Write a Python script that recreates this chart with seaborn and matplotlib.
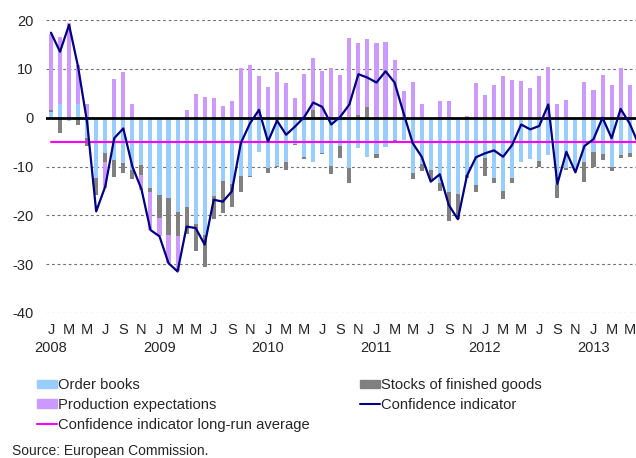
import numpy as np
import matplotlib
matplotlib.use("Agg")
import matplotlib.pyplot as plt
import matplotlib.transforms as mtransforms
import seaborn as sns
from matplotlib.patches import Patch
from matplotlib.lines import Line2D

# Monthly data, Jan 2008 - Jun 2013 (bars end in May 2013)
years = [2008, 2009, 2010, 2011, 2012, 2013]
month_letters = ["J", "M", "M", "J", "S", "N"]

order_books = [1.1, 2.9, -0.6, 2.9, -4.2, -12.4, -7.3, -8.7, -9.2, -10.7, -9.7, -14.5,
               -15.8, -16.4, -19.4, -18.3, -21.8, -24.0, -16.0, -13.0, -13.6, -11.9, -11.9, -7.0,
               -10.4, -9.8, -9.1, -5.4, -8.0, -9.1, -7.3, -9.9, -5.9, -10.4, -6.3, -8.0,
               -7.4, -6.1, -4.6, -4.6, -11.4, -9.5, -10.7, -13.4, -15.3, -15.7, -11.7, -13.8,
               -8.2, -12.4, -15.1, -12.4, -9.0, -8.5, -8.9, -7.6, -13.8, -10.4, -11.0, -9.0,
               -7.0, -7.4, -10.0, -7.6, -7.3]
stocks = [0.5, -3.2, 0.0, -1.5, -1.7, -3.4, -1.7, -3.4, -2.2, -1.9, -2.0, -0.8,
          -4.8, -7.6, -4.8, -5.5, -5.6, -6.5, -4.8, -6.6, -4.7, -3.4, -0.2, 0.0,
          -1.0, -0.2, -1.6, -0.2, -0.5, 1.6, -0.2, -1.7, -2.4, -2.9, 0.5, 2.1,
          -0.8, 0.0, -0.3, 0.0, -1.2, -1.4, -2.0, -1.7, -5.8, -5.1, -0.7, -1.5,
          -3.7, -1.0, -1.6, -0.9, 0.0, 0.0, -1.3, 0.0, -2.7, -0.4, 0.0, -4.1,
          -3.0, -1.3, -0.9, -0.7, -0.7]
production = [15.6, 13.7, 19.3, 7.9, 2.9, 0.0, -5.5, 8.0, 9.4, 2.7, -3.1, -7.7,
              -3.7, -5.8, -7.3, 1.6, 4.8, 4.3, 4.0, 2.4, 3.4, 10.1, 10.8, 8.6,
              6.2, 9.3, 7.0, 4.0, 8.9, 10.6, 9.6, 10.1, 8.7, 16.4, 14.7, 14.1,
              15.2, 15.5, 11.8, 5.5, 7.4, 2.7, 0.0, 3.5, 3.5, 0.0, 0.3, 7.0,
              4.6, 6.7, 8.6, 7.7, 7.5, 6.0, 8.6, 10.4, 2.8, 3.7, 0.0, 7.4,
              5.7, 8.7, 6.7, 10.1, 6.7]
confidence = [17.4, 13.5, 19.0, 10.4, -1.0, -19.2, -14.1, -4.2, -2.2, -10.0, -14.6, -23.0,
              -24.3, -29.8, -31.5, -22.3, -22.6, -26.0, -16.8, -17.2, -15.1, -5.2, -1.2, 1.6,
              -4.9, -0.6, -3.5, -1.8, 0.1, 3.1, 2.2, -1.4, 0.2, 2.7, 8.9, 8.2,
              7.2, 9.5, 7.2, 0.9, -5.2, -8.0, -13.1, -11.6, -17.9, -20.8, -11.9, -8.1,
              -7.3, -6.7, -8.0, -5.6, -1.4, -2.4, -1.7, 2.7, -13.6, -7.0, -11.2, -5.8,
              -4.4, 0.0, -4.2, 1.8, -1.2, -5.5]
long_run_avg = -5.0

sns.set_theme(style="white")
plt.rcParams["font.family"] = ["Liberation Sans", "DejaVu Sans"]
plt.rcParams["font.size"] = 10.5

fig = plt.figure(figsize=(6.36, 4.58), dpi=100)
ax = fig.add_axes([46 / 636, 1 - 313 / 458, 1 - 46 / 636, (313 - 20) / 458])

c_order = "#99ccff"
c_stock = "#808080"
c_prod = "#cc99ff"

# stacked bars, positives stacked up from zero and negatives down from zero
x_bar = np.arange(len(order_books))
pos_base = np.zeros(len(x_bar))
neg_base = np.zeros(len(x_bar))
for vals, col in [(order_books, c_order), (stocks, c_stock), (production, c_prod)]:
    v = np.array(vals)
    base = np.where(v >= 0, pos_base, neg_base)
    ax.bar(x_bar, v, bottom=base, width=0.45, color=col, linewidth=0, zorder=2)
    pos_base = pos_base + np.clip(v, 0, None)
    neg_base = neg_base + np.clip(v, None, 0)

x_line = np.arange(len(confidence))
sns.lineplot(x=x_line, y=[long_run_avg] * len(x_line), color="#ff00ff", lw=1.5, ax=ax, zorder=3)
ax.axhline(0, color="black", lw=2, zorder=3)
sns.lineplot(x=x_line, y=confidence, color="#000080", lw=1.6, ax=ax, zorder=4)

# grid and axes
for yv in range(-40, 21, 10):
    if yv != 0:
        ax.axhline(yv, color="#707070", lw=0.8, ls=(0, (2.5, 2.5)), zorder=1)
ax.set_ylim(-40, 20)
ax.set_xlim(-0.55, 64.7)
ax.set_yticks(range(-40, 21, 10))
ax.set_yticklabels([str(v) for v in range(-40, 21, 10)])

# month letters as tick labels, years as separate text below the January ticks
ticks = list(range(0, len(confidence), 2))
ax.set_xticks(ticks)
ax.set_xticklabels([month_letters[(t % 12) // 2] for t in ticks])
ax.tick_params(axis="x", length=0, pad=7, labelsize=10.5)
ax.tick_params(axis="y", length=0, pad=9, labelsize=10.5)
trans = mtransforms.blended_transform_factory(ax.transData, fig.transFigure)
for k, yr in enumerate(years):
    ax.text(k * 12, 1 - 348 / 458, str(yr), transform=trans, ha="center", va="center",
            fontsize=10.5, clip_on=False)
for s in ax.spines.values():
    s.set_visible(False)
ax.set_xlabel("")
ax.set_ylabel("")

# legend in two columns
h1 = [Patch(color=c_order), Patch(color=c_prod), Line2D([], [], color="#ff00ff", lw=1.5)]
l1 = ["Order books", "Production expectations", "Confidence indicator long-run average"]
h2 = [Patch(color=c_stock), Line2D([], [], color="#000080", lw=1.5)]
l2 = ["Stocks of finished goods", "Confidence indicator"]
kw = dict(loc="upper left", frameon=False, fontsize=10.6, handlelength=1.35, handleheight=0.5,
          handletextpad=0.1, labelspacing=0.4, borderpad=0, borderaxespad=0)
fig.legend(h1, l1, bbox_to_anchor=(37 / 636, 1 - 378 / 458), **kw)
fig.legend(h2, l2, bbox_to_anchor=(360 / 636, 1 - 378 / 458), **kw)

fig.text(12 / 636, 1 - 451 / 458, "Source: European Commission.", fontsize=10, va="center")

fig.savefig("out.png", dpi=100)
